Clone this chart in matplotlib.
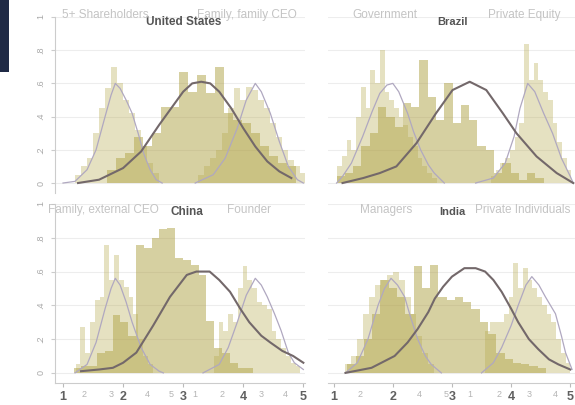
import numpy as np
import matplotlib.pyplot as plt
from matplotlib.patches import Rectangle

plt.rcParams['font.family'] = ['Liberation Sans', 'DejaVu Sans']

# ---- histogram bins (first bin centre, bin width, heights) and density lines ----
# United States
us_left_start, us_left_step = 1.25, 0.1
us_left = [0.05, 0.1, 0.15, 0.3, 0.45, 0.57, 0.70, 0.6, 0.5, 0.42, 0.32, 0.22, 0.12, 0.06]
us_mid_start, us_mid_step = 1.8, 0.15
us_mid = [0.08, 0.15, 0.18, 0.28, 0.22, 0.3, 0.46, 0.46, 0.67, 0.55, 0.65, 0.54, 0.70, 0.42,
          0.38, 0.36, 0.3, 0.22, 0.16, 0.12, 0.1]
us_right_start, us_right_step = 3.3, 0.1
us_right = [0.05, 0.1, 0.15, 0.2, 0.3, 0.45, 0.57, 0.5, 0.58, 0.56, 0.5, 0.45, 0.36, 0.28,
            0.2, 0.14, 0.1, 0.06]
us_lline_x = [1.0, 1.2, 1.4, 1.55, 1.7, 1.8, 1.87, 1.95, 2.05, 2.15, 2.25, 2.35, 2.45, 2.55, 2.65]
us_lline_y = [0, 0.01, 0.08, 0.2, 0.4, 0.53, 0.6, 0.57, 0.5, 0.42, 0.3, 0.17, 0.08, 0.02, 0]
us_mline_x = [1.25, 1.6, 2.0, 2.3, 2.6, 2.8, 3.0, 3.15, 3.3, 3.45, 3.6, 3.8, 4.0, 4.2, 4.4, 4.6, 4.8]
us_mline_y = [0, 0.02, 0.09, 0.19, 0.35, 0.45, 0.55, 0.6, 0.61, 0.6, 0.55, 0.45, 0.33, 0.22, 0.13, 0.07, 0.03]
us_rline_x = [3.2, 3.5, 3.7, 3.9, 4.05, 4.2, 4.3, 4.45, 4.6, 4.75, 4.9, 5.0]
us_rline_y = [0, 0.05, 0.15, 0.33, 0.5, 0.6, 0.55, 0.42, 0.25, 0.1, 0.02, 0]

# Brazil
br_left_start, br_left_step = 1.1, 0.08
br_left = [0.1, 0.16, 0.26, 0.2, 0.4, 0.58, 0.45, 0.68, 0.6, 0.8, 0.55, 0.5, 0.45, 0.4, 0.35,
           0.28, 0.22, 0.15, 0.1, 0.06, 0.03]
br_mid_start, br_mid_step = 1.12, 0.14
br_mid = [0.04, 0.06, 0.1, 0.22, 0.3, 0.46, 0.4, 0.34, 0.48, 0.46, 0.74, 0.52, 0.38, 0.6, 0.36,
          0.47, 0.38, 0.22, 0.2, 0.06, 0.12, 0.06, 0.02, 0.06, 0.03]
br_right_start, br_right_step = 3.7, 0.08
br_right = [0.04, 0.08, 0.12, 0.15, 0.2, 0.28, 0.36, 0.84, 0.62, 0.72, 0.62, 0.55, 0.5, 0.36,
            0.25, 0.15, 0.08]
br_lline_x = [1.05, 1.15, 1.3, 1.49, 1.65, 1.78, 1.9, 2.0, 2.1, 2.25, 2.35, 2.47, 2.6, 2.7, 2.87]
br_lline_y = [0, 0.04, 0.12, 0.28, 0.43, 0.54, 0.59, 0.6, 0.55, 0.42, 0.31, 0.2, 0.11, 0.06, 0]
br_mline_x = [1.15, 1.5, 1.78, 2.06, 2.4, 2.73, 3.01, 3.3, 3.58, 3.86, 4.09, 4.43, 4.77, 5.05]
br_mline_y = [0, 0.03, 0.06, 0.1, 0.24, 0.42, 0.56, 0.61, 0.56, 0.42, 0.3, 0.16, 0.06, 0]
br_rline_x = [3.4, 3.7, 3.9, 4.05, 4.15, 4.28, 4.4, 4.55, 4.7, 4.85, 5.0, 5.05]
br_rline_y = [0, 0.03, 0.12, 0.28, 0.45, 0.6, 0.55, 0.42, 0.3, 0.15, 0.04, 0]

# China
cn_left_start, cn_left_step = 1.25, 0.08
cn_left = [0.05, 0.27, 0.12, 0.3, 0.43, 0.45, 0.76, 0.55, 0.7, 0.55, 0.51, 0.45, 0.35, 0.2,
           0.1, 0.05]
cn_mid_start, cn_mid_step = 1.24, 0.13
cn_mid = [0.03, 0.04, 0.04, 0.12, 0.13, 0.34, 0.3, 0.22, 0.76, 0.74, 0.8, 0.85, 0.86, 0.68,
          0.67, 0.64, 0.58, 0.31, 0.15, 0.12, 0.06, 0.03, 0.03]
cn_right_start, cn_right_step = 3.55, 0.08
cn_right = [0.1, 0.3, 0.25, 0.35, 0.3, 0.5, 0.63, 0.55, 0.5, 0.42, 0.4, 0.38, 0.25, 0.2, 0.15,
            0.1, 0.06, 0.04]
cn_lline_x = [1.2, 1.4, 1.55, 1.7, 1.8, 1.87, 1.95, 2.05, 2.15, 2.3, 2.45, 2.6, 2.67]
cn_lline_y = [0, 0.05, 0.18, 0.38, 0.5, 0.56, 0.52, 0.42, 0.3, 0.15, 0.05, 0.01, 0]
cn_mline_x = [1.3, 1.6, 1.83, 2.0, 2.22, 2.5, 2.78, 3.06, 3.22, 3.44, 3.6, 3.78, 3.95, 4.1,
              4.3, 4.45, 4.65, 4.83, 5.0]
cn_mline_y = [0.01, 0.02, 0.03, 0.06, 0.12, 0.28, 0.45, 0.58, 0.6, 0.6, 0.55, 0.48, 0.38, 0.3,
              0.22, 0.18, 0.13, 0.1, 0.06]
cn_rline_x = [3.33, 3.6, 3.75, 3.9, 4.05, 4.2, 4.3, 4.4, 4.52, 4.63, 4.75, 4.85, 5.0]
cn_rline_y = [0, 0.05, 0.15, 0.3, 0.46, 0.56, 0.52, 0.45, 0.35, 0.25, 0.12, 0.06, 0.02]

# India
in_left_start, in_left_step = 1.25, 0.1
in_left = [0.05, 0.1, 0.2, 0.35, 0.45, 0.52, 0.55, 0.58, 0.6, 0.55, 0.45, 0.35, 0.22, 0.12, 0.05]
in_mid_start, in_mid_step = 1.3, 0.14
in_mid = [0.05, 0.1, 0.2, 0.35, 0.55, 0.5, 0.45, 0.35, 0.63, 0.5, 0.64, 0.45, 0.43, 0.45, 0.42,
          0.38, 0.3, 0.23, 0.12, 0.08, 0.06, 0.05, 0.04, 0.03]
in_right_start, in_right_step = 3.6, 0.08
in_right = [0.25, 0.3, 0.3, 0.3, 0.35, 0.45, 0.65, 0.5, 0.62, 0.55, 0.5, 0.45, 0.4, 0.35, 0.3,
            0.2, 0.12, 0.06]
in_lline_x = [1.2, 1.4, 1.58, 1.75, 1.86, 1.97, 2.08, 2.2, 2.3, 2.42, 2.55, 2.65, 2.82]
in_lline_y = [0, 0.06, 0.2, 0.4, 0.5, 0.56, 0.52, 0.45, 0.33, 0.2, 0.1, 0.05, 0]
in_mline_x = [1.2, 1.64, 2.03, 2.25, 2.42, 2.6, 2.71, 2.85, 3.0, 3.21, 3.4, 3.56, 3.7, 3.84,
              4.0, 4.12, 4.3, 4.46, 4.64, 4.8, 5.0]
in_mline_y = [0, 0.03, 0.1, 0.18, 0.26, 0.36, 0.44, 0.51, 0.57, 0.62, 0.62, 0.6, 0.55, 0.48,
              0.38, 0.3, 0.2, 0.14, 0.08, 0.05, 0.02]
in_rline_x = [3.5, 3.7, 3.84, 4.0, 4.12, 4.25, 4.35, 4.47, 4.58, 4.75, 4.85, 4.92, 5.03]
in_rline_y = [0, 0.06, 0.15, 0.28, 0.4, 0.52, 0.57, 0.52, 0.45, 0.35, 0.22, 0.12, 0.02]

countries = ['United States', 'Brazil', 'China', 'India']
owner_labels = [['5+ Shareholders', 'Family, family CEO'],
                ['Government', 'Private Equity'],
                ['Family, external CEO', 'Founder'],
                ['Managers', 'Private Individuals']]
y_ticks = [0, 0.2, 0.4, 0.6, 0.8, 1.0]
y_ticklabels = ['0', '.2', '.4', '.6', '.8', '1']
x_ticks = [1, 2, 3, 4, 5]
minor_left = [1.35, 1.8, 2.4, 2.8, 3.2, 3.65, 4.3, 4.7]
minor_left_labels = ['2', '3', '4', '5', '1', '2', '3', '4']
minor_right = [1.45, 2.45, 2.9, 3.3, 3.8, 4.3, 4.75]
minor_right_labels = ['2', '4', '5', '1', '2', '3', '4']

panels = [
    (us_left_start, us_left_step, us_left, us_mid_start, us_mid_step, us_mid,
     us_right_start, us_right_step, us_right,
     us_lline_x, us_lline_y, us_mline_x, us_mline_y, us_rline_x, us_rline_y),
    (br_left_start, br_left_step, br_left, br_mid_start, br_mid_step, br_mid,
     br_right_start, br_right_step, br_right,
     br_lline_x, br_lline_y, br_mline_x, br_mline_y, br_rline_x, br_rline_y),
    (cn_left_start, cn_left_step, cn_left, cn_mid_start, cn_mid_step, cn_mid,
     cn_right_start, cn_right_step, cn_right,
     cn_lline_x, cn_lline_y, cn_mline_x, cn_mline_y, cn_rline_x, cn_rline_y),
    (in_left_start, in_left_step, in_left, in_mid_start, in_mid_step, in_mid,
     in_right_start, in_right_step, in_right,
     in_lline_x, in_lline_y, in_mline_x, in_mline_y, in_rline_x, in_rline_y),
]

# axes positions [left, bottom, width, height] in figure fractions
positions = [[0.0957, 0.5235, 0.435, 0.4346],
             [0.570, 0.5235, 0.430, 0.4346],
             [0.0957, 0.0543, 0.435, 0.442],
             [0.570, 0.0543, 0.430, 0.442]]
xlims = [(0.867, 5.03), (0.90, 5.08), (0.867, 5.03), (0.90, 5.08)]

pale = '#b5a84a'
mid = '#ab9d3c'

fig = plt.figure(figsize=(5.75, 4.05), dpi=100)

for i, p in enumerate(panels):
    (ls, lw_, lh, ms, mw, mh, rs, rw, rh, lx, ly, mx, my, rx, ry) = p
    ax = fig.add_axes(positions[i])
    ax.set_xlim(*xlims[i])
    ax.set_ylim(-0.06, 1.0)

    # histograms: the two outer groups pale, the middle group a bit darker
    ax.bar(ms + mw * np.arange(len(mh)), mh, width=mw, color=mid, alpha=0.48, linewidth=0)
    ax.bar(ls + lw_ * np.arange(len(lh)), lh, width=lw_, color=pale, alpha=0.34, linewidth=0)
    ax.bar(rs + rw * np.arange(len(rh)), rh, width=rw, color=pale, alpha=0.34, linewidth=0)

    # density curves
    ax.plot(lx, ly, color='#b0a8c0', lw=0.9)
    ax.plot(rx, ry, color='#b0a8c0', lw=0.9)
    ax.plot(mx, my, color='#73686a', lw=1.5)

    ax.set_yticks(y_ticks)
    ax.grid(axis='y', color='#ededed', lw=0.8)
    ax.set_axisbelow(True)
    ax.spines['top'].set_visible(False)
    ax.spines['right'].set_visible(False)

    if i % 2 == 0:
        ax.spines['left'].set_color('#cccccc')
        ax.set_yticklabels(y_ticklabels, rotation=90, va='center', fontsize=6.5, color='#a8a8a8')
        ax.tick_params(axis='y', length=3, color='#cccccc', pad=4)
    else:
        ax.spines['left'].set_visible(False)
        ax.tick_params(axis='y', length=0, labelleft=False)

    if i < 2:
        ax.spines['bottom'].set_visible(False)
        ax.tick_params(axis='x', bottom=False, labelbottom=False)
    else:
        ax.spines['bottom'].set_color('#cccccc')
        ax.set_xticks(x_ticks)
        ax.set_xticklabels([str(t) for t in x_ticks], fontsize=9, fontweight='bold', color='#606060')
        if i == 2:
            ax.set_xticks(minor_left, minor=True)
            ax.set_xticklabels(minor_left_labels, minor=True)
        else:
            ax.set_xticks(minor_right, minor=True)
            ax.set_xticklabels(minor_right_labels, minor=True)
        ax.tick_params(axis='x', which='major', length=3, color='#bbbbbb', pad=3)
        ax.tick_params(axis='x', which='minor', length=0, labelsize=6.5, labelcolor='#b4b4b4', pad=5)

# country names and ownership labels
fig.text(184 / 575, 1 - 22 / 405, countries[0], ha='center', va='center', fontsize=8.5,
         fontweight='bold', color='#555555')
fig.text(452 / 575, 1 - 22 / 405, countries[1], ha='center', va='center', fontsize=8,
         fontweight='bold', color='#555555')
fig.text(187 / 575, 1 - 212 / 405, countries[2], ha='center', va='center', fontsize=8.5,
         fontweight='bold', color='#555555')
fig.text(452 / 575, 1 - 212 / 405, countries[3], ha='center', va='center', fontsize=8,
         fontweight='bold', color='#555555')

label_x = [[62, 197], [352, 488], [48, 227], [360, 475]]
label_y = [15, 15, 210, 210]
for k in range(4):
    for j in range(2):
        fig.text(label_x[k][j] / 575, 1 - label_y[k] / 405, owner_labels[k][j], ha='left',
                 va='center', fontsize=8.5, color='#c4c4c4')

# dark strip in the top-left corner
fig.patches.append(Rectangle((0, 1 - 72 / 405), 9 / 575, 72 / 405, transform=fig.transFigure,
                             facecolor='#1f2a45', edgecolor='none', zorder=-1))

plt.savefig('out.png', dpi=100)
